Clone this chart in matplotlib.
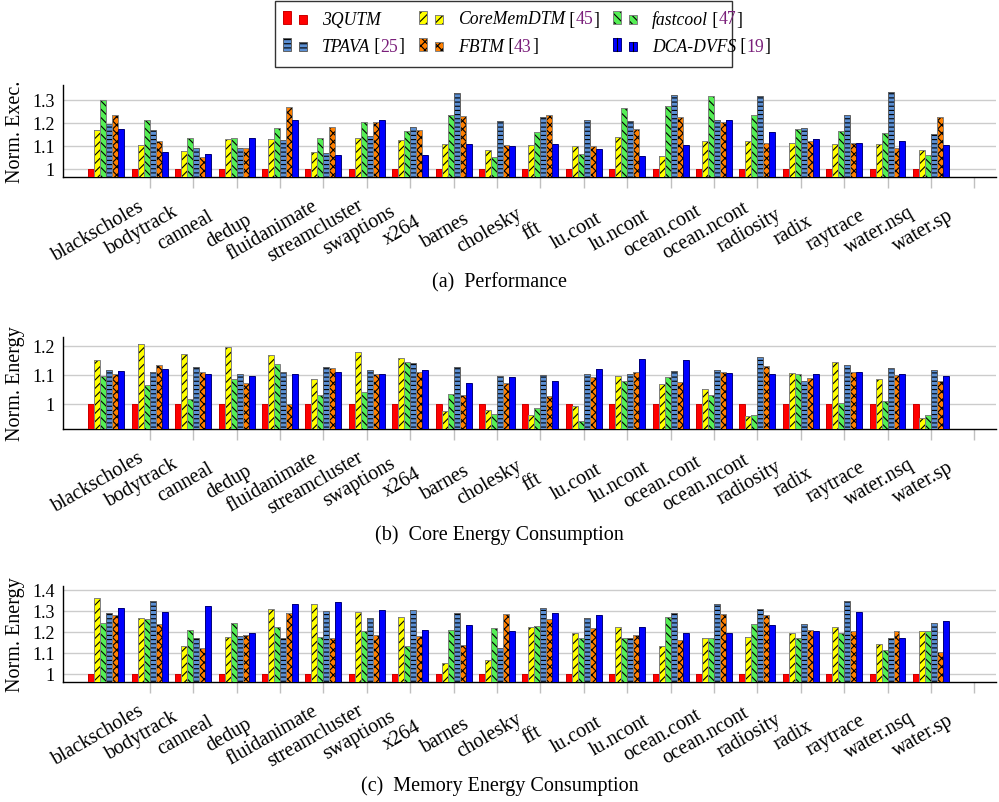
import matplotlib
matplotlib.use('Agg')
import matplotlib.pyplot as plt
from matplotlib.patches import Rectangle
import numpy as np

plt.rcParams['font.family'] = ['Liberation Serif', 'DejaVu Serif']
plt.rcParams['hatch.linewidth'] = 0.8

benchmarks = ['blackscholes', 'bodytrack', 'canneal', 'dedup', 'fluidanimate',
              'streamcluster', 'swaptions', 'x264', 'barnes', 'cholesky', 'fft',
              'lu.cont', 'lu.ncont', 'ocean.cont', 'ocean.ncont', 'radiosity',
              'radix', 'raytrace', 'water.nsq', 'water.sp']

series_names = ['3QUTM', 'CoreMemDTM', 'fastcool', 'TPAVA', 'FBTM', 'DCA-DVFS']
series_cites = [None, '45', '47', '25', '43', '19']

# Performance (normalized execution time)
perf_3qutm = [1.0] * 20
perf_corememdtm = [1.17, 1.104, 1.078, 1.128, 1.13, 1.074, 1.133, 1.126, 1.108, 1.084,
                   1.105, 1.098, 1.137, 1.055, 1.121, 1.123, 1.111, 1.108, 1.107, 1.082]
perf_fastcool = [1.30, 1.212, 1.133, 1.133, 1.177, 1.133, 1.205, 1.165, 1.234, 1.05,
                 1.16, 1.065, 1.263, 1.274, 1.317, 1.234, 1.173, 1.166, 1.154, 1.059]
perf_tpava = [1.193, 1.169, 1.089, 1.09, 1.126, 1.068, 1.141, 1.18, 1.329, 1.206,
              1.224, 1.212, 1.206, 1.319, 1.214, 1.315, 1.176, 1.234, 1.332, 1.153]
perf_fbtm = [1.234, 1.12, 1.05, 1.09, 1.268, 1.18, 1.202, 1.169, 1.228, 1.104,
             1.234, 1.10, 1.175, 1.227, 1.202, 1.113, 1.121, 1.113, 1.091, 1.224]
perf_dca = [1.173, 1.074, 1.066, 1.133, 1.212, 1.062, 1.212, 1.061, 1.11, 1.098,
            1.107, 1.087, 1.056, 1.102, 1.211, 1.16, 1.13, 1.113, 1.123, 1.102]

# Core energy
core_3qutm = [1.0] * 20
core_corememdtm = [1.151, 1.205, 1.172, 1.194, 1.168, 1.084, 1.179, 1.156, 0.975, 0.977,
                   0.96, 0.991, 1.097, 1.068, 1.052, 0.959, 1.105, 1.143, 1.087, 0.952]
core_fastcool = [1.094, 1.064, 1.018, 1.084, 1.137, 1.031, 1.039, 1.144, 1.033, 0.964,
                 0.987, 0.939, 1.079, 1.091, 1.03, 0.96, 1.103, 1.002, 1.008, 0.96]
core_tpava = [1.115, 1.11, 1.125, 1.101, 1.111, 1.125, 1.117, 1.139, 1.125, 1.097,
              1.098, 1.101, 1.101, 1.114, 1.116, 1.162, 1.079, 1.132, 1.123, 1.115]
core_fbtm = [1.103, 1.132, 1.111, 1.072, 1.0, 1.123, 1.101, 1.109, 1.031, 1.072,
             1.025, 1.092, 1.109, 1.076, 1.109, 1.13, 1.09, 1.111, 1.1, 1.077]
core_dca = [1.113, 1.121, 1.101, 1.097, 1.102, 1.111, 1.101, 1.116, 1.071, 1.091,
            1.08, 1.121, 1.153, 1.152, 1.107, 1.103, 1.101, 1.109, 1.101, 1.097]

# Memory energy
mem_3qutm = [1.0] * 20
mem_corememdtm = [1.363, 1.268, 1.132, 1.173, 1.311, 1.335, 1.297, 1.271, 1.052, 1.063,
                  1.221, 1.195, 1.221, 1.13, 1.171, 1.173, 1.194, 1.222, 1.144, 1.203]
mem_fastcool = [1.244, 1.26, 1.21, 1.24, 1.222, 1.173, 1.205, 1.133, 1.211, 1.216,
                1.23, 1.17, 1.17, 1.271, 1.17, 1.238, 1.168, 1.194, 1.113, 1.202]
mem_tpava = [1.292, 1.349, 1.17, 1.178, 1.17, 1.298, 1.265, 1.305, 1.29, 1.124,
             1.316, 1.265, 1.17, 1.29, 1.335, 1.311, 1.237, 1.348, 1.171, 1.243]
mem_fbtm = [1.279, 1.235, 1.122, 1.183, 1.289, 1.17, 1.186, 1.179, 1.135, 1.287,
            1.259, 1.219, 1.186, 1.162, 1.284, 1.279, 1.211, 1.206, 1.206, 1.103]
mem_dca = [1.313, 1.297, 1.322, 1.192, 1.333, 1.343, 1.302, 1.21, 1.232, 1.202,
           1.292, 1.279, 1.224, 1.194, 1.194, 1.232, 1.202, 1.294, 1.171, 1.252]

panels = [
    dict(data=[perf_3qutm, perf_corememdtm, perf_fastcool, perf_tpava, perf_fbtm, perf_dca],
         ylabel='Norm. Exec.', yticks=[1, 1.1, 1.2, 1.3], yticklabels=['1', '1.1', '1.2', '1.3'],
         ylim=(0.964, 1.364), caption='(a)  Performance'),
    dict(data=[core_3qutm, core_corememdtm, core_fastcool, core_tpava, core_fbtm, core_dca],
         ylabel='Norm. Energy', yticks=[1, 1.1, 1.2], yticklabels=['1', '1.1', '1.2'],
         ylim=(0.913, 1.23), caption='(b)  Core Energy Consumption'),
    dict(data=[mem_3qutm, mem_corememdtm, mem_fastcool, mem_tpava, mem_fbtm, mem_dca],
         ylabel='Norm. Energy', yticks=[1, 1.1, 1.2, 1.3, 1.4],
         yticklabels=['1', '1.1', '1.2', '1.3', '1.4'],
         ylim=(0.96, 1.419), caption='(c)  Memory Energy Consumption'),
]

colors = ['#ff0000', '#ffff00', '#55ee55', '#5b8fd3', '#ff8000', '#0000ff']
hatches = [None, '////', '\\\\\\\\', '----', 'xxxx', None]
edges = ['#cc0000', '#808080', '#808080', '#606060', '#808080', '#00007a']

W, H = 999, 803
fig = plt.figure(figsize=(W / 100, H / 100), dpi=100)
FS_TICK = 13
FS_X = 14.5
FS_LAB = 14.5
FS_CAP = 14.5
FS_LEG = 12.7

# axes geometry in pixels: (top, bottom)
geo = [(86, 178.3), (338, 430), (587, 683)]
cap_y = [283, 535, 786]
left_px, right_px = 63, 996

x = np.arange(len(benchmarks))
bw = 0.138
for p, (top, bot), cy in zip(panels, geo, cap_y):
    ax = fig.add_axes([left_px / W, 1 - bot / H, (right_px - left_px) / W, (bot - top) / H])
    y0 = p['ylim'][0]
    for k, vals in enumerate(p['data']):
        vals = np.asarray(vals)
        xs = x + (k - 2.5) * bw
        ax.bar(xs, vals - y0, bottom=y0, width=bw, color=colors[k],
               hatch=hatches[k], edgecolor='black', linewidth=0, zorder=3)
        ax.bar(xs, vals - y0, bottom=y0, width=bw, color='none',
               edgecolor=edges[k], linewidth=0.7, zorder=4)
    ax.set_xlim(-1, 20.5)
    ax.set_ylim(*p['ylim'])
    ax.set_yticks(p['yticks'])
    ax.set_yticklabels(p['yticklabels'], fontsize=FS_TICK)
    ax.tick_params(axis='y', length=0, pad=6)
    ax.yaxis.grid(True, color='#cccccc', linewidth=1.0, zorder=0)
    ax.set_axisbelow(True)
    # tick marks at group centres 1..20
    ax.set_xticks(np.arange(1, 21))
    ax.set_xticklabels([])
    ax.tick_params(axis='x', which='major', length=8, width=1, color='#c0c0c0', direction='out')
    # labels
    ax.set_xticks(x - 0.18, benchmarks, minor=True)
    ax.tick_params(axis='x', which='minor', length=0, pad=38, labelsize=FS_X)
    for lab in ax.get_xticklabels(minor=True):
        lab.set_rotation(30)
        lab.set_ha('center')
        lab.set_va('center')
        lab.set_rotation_mode('anchor')
    for s in ['top', 'right']:
        ax.spines[s].set_visible(False)
    ax.spines['left'].set_linewidth(1.0)
    ax.spines['bottom'].set_linewidth(1.0)
    ax.set_ylabel(p['ylabel'], fontsize=FS_LAB, va='center')
    ax.yaxis.set_label_coords((16 - left_px) / (right_px - left_px), 0.5)
    fig.text(0.5, 1 - cy / H, p['caption'], ha='center', va='center', fontsize=FS_CAP)

# Legend drawn in a pixel-coordinate overlay axes
lax = fig.add_axes([0, 0, 1, 1], zorder=10)
lax.set_xlim(0, W)
lax.set_ylim(H, 0)
lax.axis('off')
lax.patch.set_alpha(0)
lax.add_patch(Rectangle((275, 2), 457, 66, facecolor='white', edgecolor='#333333', linewidth=1.0))

renderer = fig.canvas.get_renderer()
cols_x = [283, 419, 613]
rows_y = [21, 48]
purple = '#7a1f7a'
for idx in range(6):
    r, c = idx // 3, idx % 3
    k = idx
    px = cols_x[c]
    cy = rows_y[r]
    # two bars: tall and short
    lax.add_patch(Rectangle((px, cy - 9), 8, 13, facecolor=colors[k], hatch=hatches[k],
                            edgecolor='black', linewidth=0))
    lax.add_patch(Rectangle((px, cy - 9), 8, 13, facecolor='none', edgecolor=edges[k], linewidth=0.7))
    lax.add_patch(Rectangle((px + 16, cy - 5), 8, 9, facecolor=colors[k], hatch=hatches[k],
                            edgecolor='black', linewidth=0))
    lax.add_patch(Rectangle((px + 16, cy - 5), 8, 9, facecolor='none', edgecolor=edges[k], linewidth=0.7))
    if k == 5:
        lax.plot([px + 4, px + 4], [cy - 9, cy + 4], color='black', lw=0.8)
        lax.plot([px + 20, px + 20], [cy - 5, cy + 4], color='black', lw=0.8)
    tx = px + 39
    parts = [(series_names[k], 'black', 'italic')]
    if series_cites[k]:
        parts += [(' [', 'black', 'normal'), (series_cites[k], purple, 'normal'), (']', 'black', 'normal')]
    for txt, col, sty in parts:
        t = lax.text(tx, cy - 1, txt, color=col, style=sty, fontsize=FS_LEG, ha='left', va='center')
        bb = t.get_window_extent(renderer)
        tx += bb.width

fig.savefig('out.png', dpi=100)
